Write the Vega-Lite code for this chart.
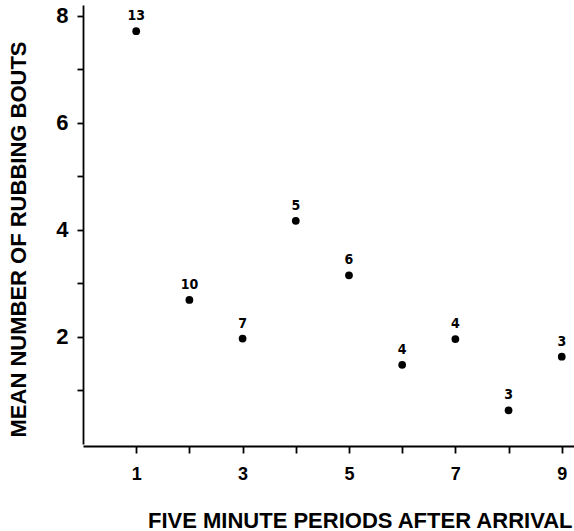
{
  "$schema": "https://vega.github.io/schema/vega-lite/v6.json",
  "autosize": "none",
  "width": 491,
  "height": 439,
  "padding": {"left": 83, "top": 5, "right": 0, "bottom": 87},
  "background": "white",
  "config": {"view": {"stroke": null}, "axis": {"grid": false, "domainColor": "black", "tickColor": "black", "labelColor": "black", "titleColor": "black", "domainWidth": 1.8, "tickWidth": 1.8}},
  "data": {"values": [
    {"period": 1, "mean": 7.71, "n": "13"},
    {"period": 2, "mean": 2.69, "n": "10"},
    {"period": 3, "mean": 1.97, "n": "7"},
    {"period": 4, "mean": 4.17, "n": "5"},
    {"period": 5, "mean": 3.15, "n": "6"},
    {"period": 6, "mean": 1.48, "n": "4"},
    {"period": 7, "mean": 1.96, "n": "4"},
    {"period": 8, "mean": 0.63, "n": "3"},
    {"period": 9, "mean": 1.63, "n": "3"}
  ]},
  "encoding": {
    "x": {"field": "period", "type": "quantitative",
      "scale": {"domain": [0, 9.23], "nice": false, "zero": false},
      "axis": {"values": [1,2,3,4,5,6,7,8,9], "labelExpr": "datum.value % 2 == 1 ? datum.label : ''",
        "tickSize": 7, "labelPadding": 12, "labelFont": "Liberation Sans", "labelFontWeight": "bold", "labelFontSize": 18,
        "offset": 2,
        "title": "FIVE MINUTE PERIODS AFTER ARRIVAL", "titleFont": "Liberation Sans", "titleFontWeight": "bold", "titleFontSize": 22,
        "titleAnchor": "end", "titleAlign": "right", "titleX": 489, "titleY": 81, "titleBaseline": "alphabetic"}},
    "y": {"field": "mean", "type": "quantitative",
      "scale": {"domain": [0, 8.2], "nice": false},
      "axis": {"values": [1,2,3,4,5,6,7,8], "labelExpr": "datum.value % 2 == 0 ? datum.label : ''",
        "tickSize": 6, "labelPadding": 9, "labelFont": "Liberation Sans", "labelFontWeight": "bold", "labelFontSize": 22,
        "title": "MEAN NUMBER OF RUBBING BOUTS", "titleFont": "Liberation Sans", "titleFontWeight": "bold", "titleFontSize": 22,
        "titleAngle": -90, "titleAlign": "center", "titleBaseline": "alphabetic", "titleX": -58, "titleY": 234}}
  },
  "layer": [
    {"mark": {"type": "point", "filled": true, "color": "black", "opacity": 1, "size": 60, "shape": "circle"}},
    {"mark": {"type": "text", "dy": -15, "baseline": "middle", "font": "Liberation Sans Narrow, DejaVu Sans Condensed", "fontWeight": "bold", "fontSize": 14, "color": "black"},
     "encoding": {"text": {"field": "n"}}}
  ]
}
